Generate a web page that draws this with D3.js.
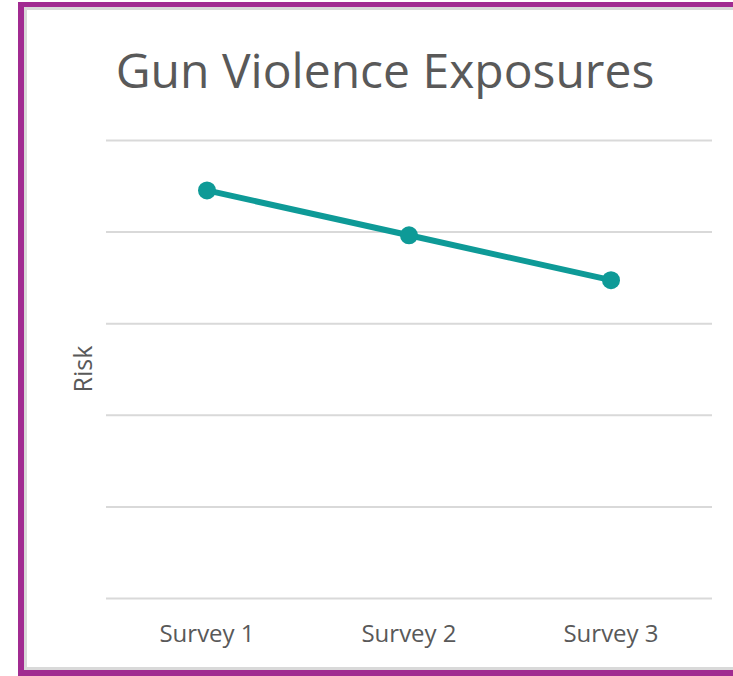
<!DOCTYPE html>
<html>
<head>
<meta charset="utf-8">
<script src="https://cdn.jsdelivr.net/npm/d3@7"></script>
<style>
  html, body { margin: 0; padding: 0; background: #fff; }
  svg { display: block; }
</style>
</head>
<body>
<svg id="chart" width="733" height="676"></svg>
<script>
// Chart data
const categories = ["Survey 1", "Survey 2", "Survey 3"];
const riskValues = [4.45, 3.96, 3.47];
const yTicks = [0, 1, 2, 3, 4, 5];

const svg = d3.select("#chart");
const W = 733, H = 676;

// Frame: purple border with a light grey inner shadow
svg.append("rect").attr("x", 0).attr("y", 0).attr("width", W).attr("height", H).attr("fill", "#fff");
svg.append("rect").attr("x", 18).attr("y", 2).attr("width", W - 18).attr("height", 5).attr("fill", "#a12b91");
svg.append("rect").attr("x", 18).attr("y", 2).attr("width", 6).attr("height", H - 2).attr("fill", "#a12b91");
svg.append("rect").attr("x", 18).attr("y", 670).attr("width", W - 18).attr("height", 6).attr("fill", "#a12b91");
svg.append("rect").attr("x", 24).attr("y", 7).attr("width", W - 24).attr("height", 663).attr("fill", "#fff");
svg.append("rect").attr("x", 24).attr("y", 7).attr("width", W - 24).attr("height", 3).attr("fill", "#d9d9d9");
svg.append("rect").attr("x", 24).attr("y", 7).attr("width", 3).attr("height", 663).attr("fill", "#d9d9d9");
svg.append("rect").attr("x", 24).attr("y", 667).attr("width", W - 24).attr("height", 3).attr("fill", "#d9d9d9");

const plot = { left: 106, right: 712, top: 140, bottom: 598 };

const x = d3.scaleBand().domain(categories).range([plot.left, plot.right]);
const y = d3.scaleLinear().domain([0, 5]).range([plot.bottom, plot.top]);

// Horizontal gridlines
svg.append("g")
  .attr("transform", `translate(${plot.left},0)`)
  .call(d3.axisLeft(y).tickValues(yTicks).tickSize(-(plot.right - plot.left)).tickFormat(""))
  .call(g => g.select(".domain").remove())
  .call(g => g.selectAll(".tick line").attr("stroke", "#d9d9d9").attr("stroke-width", 2));

// Category axis labels
svg.append("g")
  .attr("transform", `translate(0,${plot.bottom})`)
  .call(d3.axisBottom(x).tickSize(0).tickPadding(0))
  .call(g => g.select(".domain").remove())
  .call(g => g.selectAll(".tick text")
    .attr("dy", 0).attr("y", 44)
    .attr("fill", "#595959")
    .style("font-family", "'Open Sans', sans-serif")
    .style("font-size", "24px"));

// Title
svg.append("text")
  .attr("x", 385).attr("y", 88)
  .attr("text-anchor", "middle")
  .attr("fill", "#595959")
  .style("font-family", "'Open Sans', sans-serif")
  .style("font-size", "48px")
  .text("Gun Violence Exposures");

// Y axis title
svg.append("text")
  .attr("transform", "translate(92,369) rotate(-90)")
  .attr("text-anchor", "middle")
  .attr("fill", "#595959")
  .style("font-family", "'Open Sans', sans-serif")
  .style("font-size", "25px")
  .text("Risk");

// Series line and markers
const cx = d => x(d.c) + x.bandwidth() / 2;
const pts = categories.map((c, i) => ({ c, v: riskValues[i] }));

svg.append("path")
  .datum(pts)
  .attr("fill", "none")
  .attr("stroke", "#0e9a97")
  .attr("stroke-width", 6)
  .attr("stroke-linecap", "round")
  .attr("d", d3.line().x(cx).y(d => y(d.v)));

svg.selectAll("circle.pt")
  .data(pts)
  .join("circle")
  .attr("class", "pt")
  .attr("cx", cx)
  .attr("cy", d => y(d.v))
  .attr("r", 9)
  .attr("fill", "#0e9a97");
</script>
</body>
</html>
